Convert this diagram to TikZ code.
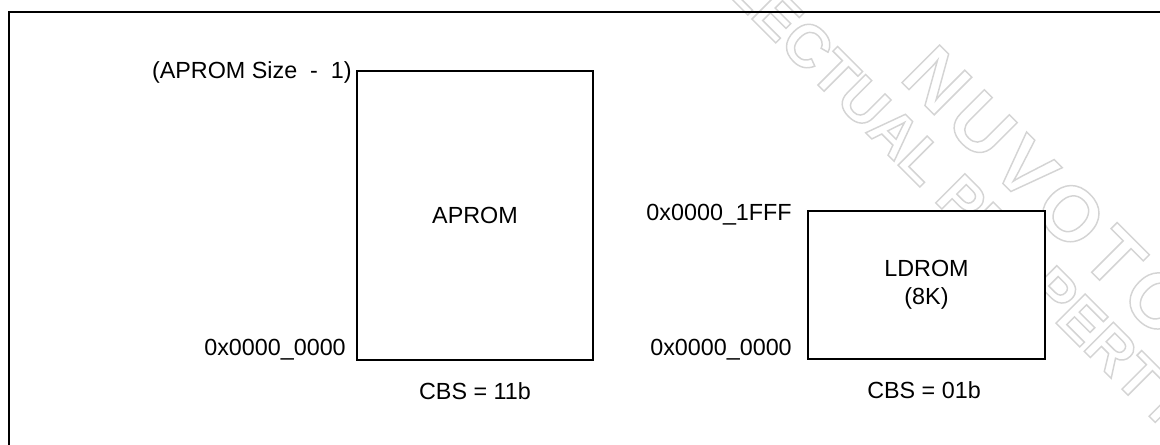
\documentclass[tikz,border=0pt]{standalone}
\usepackage{fontspec}
\setmainfont{Liberation Sans}
\tikzset{
  membox/.style={draw, fill=white, line width=1.2pt, inner sep=0pt, align=center, font=\fontsize{17.5}{21}\selectfont},
  lbl/.style={inner sep=0pt, font=\fontsize{17.5}{21}\selectfont},
  wm/.style={inner sep=0pt, rotate=-45, anchor=west},
  framestyle/.style={line width=1.5pt, line join=miter},
}
\newcommand\wmtext[1]{\special{pdf:literal direct 0.83 G 1.1 w 1 Tr}#1\special{pdf:literal direct 0 Tr 0 G}}
\begin{document}
\begin{tikzpicture}[x=0.75pt,y=-0.75pt]
\useasboundingbox (0,0) rectangle (1160,445);
% watermark
\node[wm, font=\fontsize{45}{50}\selectfont\bfseries] (wm1) at (615,-147) {\wmtext{INTELLECTUAL PROPERTY}};
\node[wm, font=\fontsize{58}{64}\selectfont\bfseries] (wm2) at (917,60) {\wmtext{N\hspace{6pt}U\hspace{6pt}V\hspace{6pt}O\hspace{6pt}T\hspace{6pt}O\hspace{6pt}N}};
% frame
\coordinate (ftr) at (1165,12);
\coordinate (ftl) at (8.7,12);
\coordinate (fbl) at (8.7,450);
\draw[framestyle] (ftr) -- (ftl) -- (fbl);
% memory boxes
\node[membox, minimum width=177pt, minimum height=217pt] (aprom) at (475,215.4) {APROM};
\node[membox, minimum width=177.75pt, minimum height=111pt] (ldrom) at (926.5,285) {LDROM\\(8K)};
% address labels
\node[lbl, anchor=base east] (atop) at (352,78.3) {(APROM Size\ \ -\ \ 1)};
\node[lbl, anchor=base east] (abot) at (346,355) {0x0000\_0000};
\node[lbl, anchor=base east] (ltop) at (792,220.3) {0x0000\_1FFF};
\node[lbl, anchor=base east] (lbot) at (792,355) {0x0000\_0000};
% captions
\node[lbl, anchor=base] (cbs1) at (475,399) {CBS = 11b};
\node[lbl, anchor=base] (cbs2) at (924,398.5) {CBS = 01b};
\end{tikzpicture}
\end{document}
